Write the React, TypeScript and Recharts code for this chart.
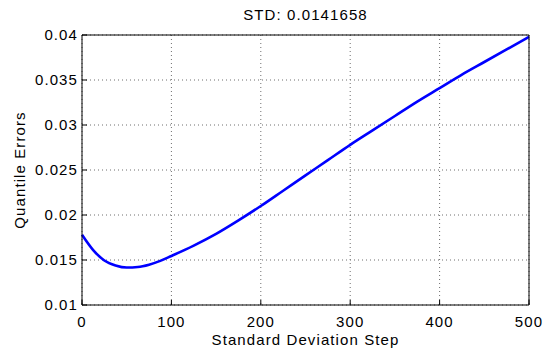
import { CartesianGrid, Label, Line, LineChart, XAxis, YAxis } from "recharts";

const steps = [
  0, 12.5, 25, 37.5, 50, 62.5, 75, 87.5, 100, 125, 150, 175, 200, 225, 250, 275, 300, 325, 350, 375, 400, 425,
  450, 475, 500,
];
const quantileErrors = [
  0.0178, 0.0161, 0.01495, 0.0144, 0.01416, 0.01422, 0.01448, 0.0149, 0.01545, 0.0166, 0.0179, 0.0194, 0.021,
  0.0227, 0.0244, 0.0261, 0.0278, 0.0294, 0.031, 0.0326, 0.0341, 0.0356, 0.037, 0.0384, 0.0398,
];
const xTicks = [0, 100, 200, 300, 400, 500];
const yTicks = [0.01, 0.015, 0.02, 0.025, 0.03, 0.035, 0.04];
const stdValue = "0.0141658";

const chartData = steps.map((step, i) => ({ step, err: quantileErrors[i] }));

const font = "'Liberation Sans', Arial, Helvetica, sans-serif";
const textStyle = { fontSize: 15, fill: "#000", fontFamily: font, letterSpacing: 1.1 };

export default function App() {
  return (
    <div style={{ position: "absolute", left: 0, top: 0, width: 550, height: 353, background: "#fff" }}>
      <LineChart width={550} height={353} data={chartData} margin={{ top: 34, right: 20, bottom: 0, left: 0 }}>
        <CartesianGrid stroke="#6e6e6e" strokeDasharray="1 3" />
        <XAxis
          dataKey="step"
          type="number"
          domain={[0, 500]}
          ticks={xTicks}
          height={48}
          tickSize={-5}
          tickMargin={16}
          stroke="#000"
          tick={textStyle}
          interval={0}
        >
          <Label
            content={({ viewBox }: any) => (
              <text x={viewBox.x + viewBox.width / 2} y={viewBox.y + 40} textAnchor="middle" style={textStyle}>
                Standard Deviation Step
              </text>
            )}
          />
        </XAxis>
        <XAxis
          xAxisId="top"
          orientation="top"
          dataKey="step"
          type="number"
          domain={[0, 500]}
          ticks={xTicks}
          height={1}
          tickSize={-5}
          tick={false}
          stroke="#000"
          interval={0}
        >
          <Label
            content={({ viewBox }: any) => (
              <text
                x={viewBox.x + viewBox.width / 2}
                y={viewBox.y + viewBox.height - 15.5}
                textAnchor="middle"
                style={textStyle}
              >
                {`STD: ${stdValue}`}
              </text>
            )}
          />
        </XAxis>
        <YAxis
          type="number"
          domain={[0.01, 0.04]}
          ticks={yTicks}
          width={82}
          tickSize={-5}
          tickMargin={9}
          stroke="#000"
          tick={textStyle}
          interval={0}
          tickFormatter={(v: number) => String(+v.toFixed(3))}
        >
          <Label
            content={({ viewBox }: any) => {
              const cx = viewBox.x + 25;
              const cy = viewBox.y + viewBox.height / 2;
              return (
                <text x={cx} y={cy} textAnchor="middle" transform={`rotate(-90, ${cx}, ${cy})`} style={textStyle}>
                  Quantile Errors
                </text>
              );
            }}
          />
        </YAxis>
        <YAxis
          yAxisId="right"
          orientation="right"
          type="number"
          domain={[0.01, 0.04]}
          ticks={yTicks}
          width={1}
          tickSize={-5}
          tick={false}
          stroke="#000"
          interval={0}
        />
        <Line
          type="monotone"
          dataKey="err"
          stroke="#0000ff"
          strokeWidth={2.6}
          dot={false}
          activeDot={false}
          isAnimationActive={false}
        />
      </LineChart>
    </div>
  );
}
